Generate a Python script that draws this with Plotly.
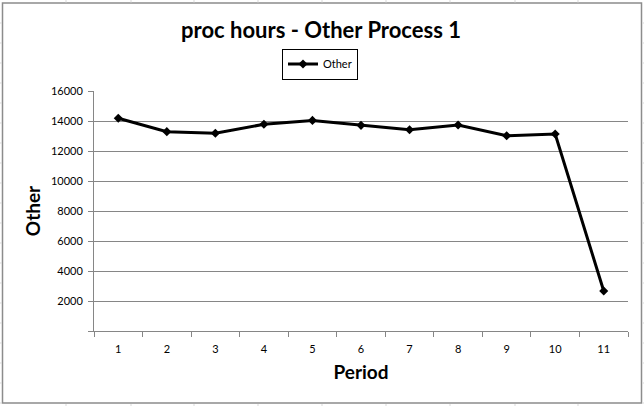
import plotly.graph_objects as go

periods = ["1", "2", "3", "4", "5", "6", "7", "8", "9", "10", "11"]
other = [14180, 13290, 13180, 13780, 14040, 13710, 13420, 13730, 13020, 13130, 2670]
y_tickvals = [0, 2000, 4000, 6000, 8000, 10000, 12000, 14000, 16000]
y_ticktext = ["", "2000", "4000", "6000", "8000", "10000", "12000", "14000", "16000"]

W, H = 644, 406
L, R, T, B = 94, 628, 91, 331


def px(x):
    return (x - L) / (R - L)


def py(y):
    return (B - y) / (B - T)


fig = go.Figure()
fig.add_trace(go.Scatter(
    x=periods, y=other, mode="lines+markers", name="Other",
    line=dict(color="black", width=3),
    marker=dict(symbol="diamond", size=7, color="black"),
))

shapes = []
# chart border
shapes.append(dict(type="rect", xref="paper", yref="paper",
                   x0=px(2.5), x1=px(641.5), y0=py(403), y1=py(3),
                   line=dict(color="#8c8c8c", width=1.5), layer="below"))
# spreadsheet cell lines outside chart
cell_x = [66, 131, 194, 258, 322, 386, 450, 515, 578]
for cx in cell_x:
    shapes.append(dict(type="line", xref="paper", yref="paper",
                       x0=px(cx), x1=px(cx), y0=py(0), y1=py(2.5),
                       line=dict(color="#d9d9d9", width=1)))
    shapes.append(dict(type="line", xref="paper", yref="paper",
                       x0=px(cx), x1=px(cx), y0=py(404), y1=py(406),
                       line=dict(color="#d9d9d9", width=1)))
for ry in range(23, 404, 20):
    shapes.append(dict(type="line", xref="paper", yref="paper",
                       x0=px(0), x1=px(2), y0=py(ry), y1=py(ry),
                       line=dict(color="#d9d9d9", width=1)))
    shapes.append(dict(type="line", xref="paper", yref="paper",
                       x0=px(642.5), x1=px(644), y0=py(ry), y1=py(ry),
                       line=dict(color="#d9d9d9", width=1)))

fig.update_layout(
    width=W, height=H,
    margin=dict(l=L, r=W - R, t=T, b=H - B, pad=0),
    paper_bgcolor="white", plot_bgcolor="white",
    font=dict(family="Lato", size=11, color="black"),
    title=dict(text="<b>proc hours - Other Process 1</b>", x=px(321), xanchor="center",
               xref="paper", y=1 - 30 / H, yanchor="middle",
               font=dict(family="Lato", size=22, color="black")),
    showlegend=True,
    legend=dict(x=px(320), y=py(64), xanchor="center", yanchor="middle",
                bordercolor="black", borderwidth=1, bgcolor="white",
                font=dict(family="Lato", size=11, color="black"),
                itemwidth=30, tracegroupgap=0),
    xaxis=dict(type="category", range=[-0.5, 10.5], tickson="boundaries",
               ticks="outside", ticklen=5, tickcolor="#868686",
               showline=True, linecolor="#868686", linewidth=1,
               showgrid=False, zeroline=False, ticklabelstandoff=8,
               tickfont=dict(family="Lato", size=11, color="black"),
               title=dict(text="<b>Period</b>", standoff=11,
                          font=dict(family="Lato", size=19, color="black"))),
    yaxis=dict(range=[0, 16000], tickvals=y_tickvals, ticktext=y_ticktext,
               ticks="outside", ticklen=5, tickcolor="#868686",
               showline=True, linecolor="#868686", linewidth=1,
               showgrid=True, gridcolor="#868686", gridwidth=1, zeroline=False,
               ticklabelstandoff=3,
               tickfont=dict(family="Lato", size=11, color="black"),
               title=dict(text="<b>Other</b>", standoff=5,
                          font=dict(family="Lato", size=19, color="black"))),
    shapes=shapes,
)

fig.write_html("out.html", config={"displayModeBar": False},
               post_script="document.body.style.margin='0';document.body.style.overflow='hidden';")
